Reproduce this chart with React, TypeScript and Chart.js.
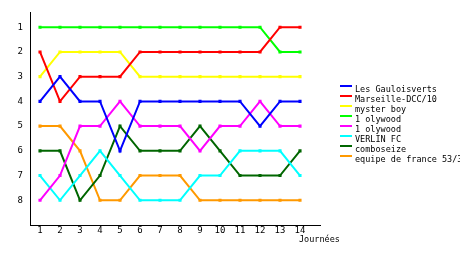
import React, { useEffect, useRef } from "react";
import { Chart, registerables } from "chart.js";

Chart.register(...registerables);

const journees = [1, 2, 3, 4, 5, 6, 7, 8, 9, 10, 11, 12, 13, 14];
const rankTicks = [1, 2, 3, 4, 5, 6, 7, 8];

const teams = [
  "Les Gauloisverts",
  "Marseille-DCC/10",
  "myster boy",
  "1 olywood",
  "1 olywood",
  "VERLIN FC",
  "comboseize",
  "equipe de france 53/3",
];

const colors = ["#0000ff", "#ff0000", "#ffff00", "#00ff00", "#ff00ff", "#00ffff", "#006600", "#ff9900"];

const gauloisverts = [4, 3, 4, 4, 6, 4, 4, 4, 4, 4, 4, 5, 4, 4];
const marseille = [2, 4, 3, 3, 3, 2, 2, 2, 2, 2, 2, 2, 1, 1];
const mysterBoy = [3, 2, 2, 2, 2, 3, 3, 3, 3, 3, 3, 3, 3, 3];
const olywoodA = [1, 1, 1, 1, 1, 1, 1, 1, 1, 1, 1, 1, 2, 2];
const olywoodB = [8, 7, 5, 5, 4, 5, 5, 5, 6, 5, 5, 4, 5, 5];
const verlin = [7, 8, 7, 6, 7, 8, 8, 8, 7, 7, 6, 6, 6, 7];
const comboseize = [6, 6, 8, 7, 5, 6, 6, 6, 5, 6, 7, 7, 7, 6];
const equipeFrance = [5, 5, 6, 8, 8, 7, 7, 7, 8, 8, 8, 8, 8, 8];

const series = [gauloisverts, marseille, mysterBoy, olywoodA, olywoodB, verlin, comboseize, equipeFrance];

const FONT = '"DejaVu Sans Mono", monospace';

const legendPlugin = {
  id: "customLegend",
  afterDraw(chart: any) {
    const ctx = chart.ctx;
    const area = chart.chartArea;
    ctx.save();
    ctx.font = `8.5px ${FONT}`;
    ctx.textBaseline = "alphabetic";
    ctx.textAlign = "left";
    const x0 = area.right + 20;
    const y0 = 86;
    chart.data.datasets.forEach((ds: any, i: number) => {
      const y = y0 + 10 * i;
      ctx.fillStyle = ds.borderColor;
      ctx.fillRect(x0, y - 1, 12, 2);
      ctx.fillStyle = "#000";
      ctx.fillText(ds.label, x0 + 15, y + 6);
    });
    ctx.fillStyle = "#000";
    ctx.fillText("Journées", area.right - 21, area.bottom + 17);
    ctx.restore();
  },
};

export default function App() {
  const ref = useRef<HTMLCanvasElement>(null);

  useEffect(() => {
    if (!ref.current) return;
    const chart = new Chart(ref.current, {
      type: "line",
      data: {
        datasets: series.map((arr, i) => ({
          label: teams[i],
          data: journees.map((j, k) => ({ x: j, y: arr[k] })),
          borderColor: colors[i],
          backgroundColor: colors[i],
          pointBackgroundColor: colors[i],
          borderWidth: 2,
          pointStyle: "rect",
          pointRadius: 2.2,
          pointBorderWidth: 0,
          tension: 0,
          fill: false,
        })),
      },
      options: {
        responsive: false,
        animation: false,
        layout: { padding: { top: 10, right: 140, left: 0, bottom: 0 } },
        plugins: {
          legend: { display: false },
          tooltip: { enabled: false },
        },
        scales: {
          x: {
            type: "linear",
            min: 0.5,
            max: 15,
            grid: { display: false, drawTicks: false },
            border: { color: "#000", width: 1 },
            afterBuildTicks: (scale: any) => {
              scale.ticks = journees.map((v) => ({ value: v }));
            },
            afterFit: (scale: any) => {
              scale.height = 30;
            },
            ticks: {
              autoSkip: false,
              maxRotation: 0,
              color: "#000",
              padding: 0,
              font: { family: FONT, size: 9 },
            },
          },
          y: {
            type: "linear",
            reverse: true,
            min: 0.4,
            max: 9,
            grid: { display: false, drawTicks: false },
            border: { color: "#000", width: 1 },
            afterBuildTicks: (scale: any) => {
              scale.ticks = rankTicks.map((v) => ({ value: v }));
            },
            afterFit: (scale: any) => {
              scale.width = 30;
            },
            ticks: {
              autoSkip: false,
              color: "#000",
              padding: 7,
              font: { family: FONT, size: 9 },
            },
          },
        },
      },
      plugins: [legendPlugin],
    } as any);
    return () => chart.destroy();
  }, []);

  return (
    <div style={{ position: "absolute", left: 0, top: 0, width: 460, height: 255, background: "#fff" }}>
      <canvas ref={ref} width={460} height={255} />
    </div>
  );
}
